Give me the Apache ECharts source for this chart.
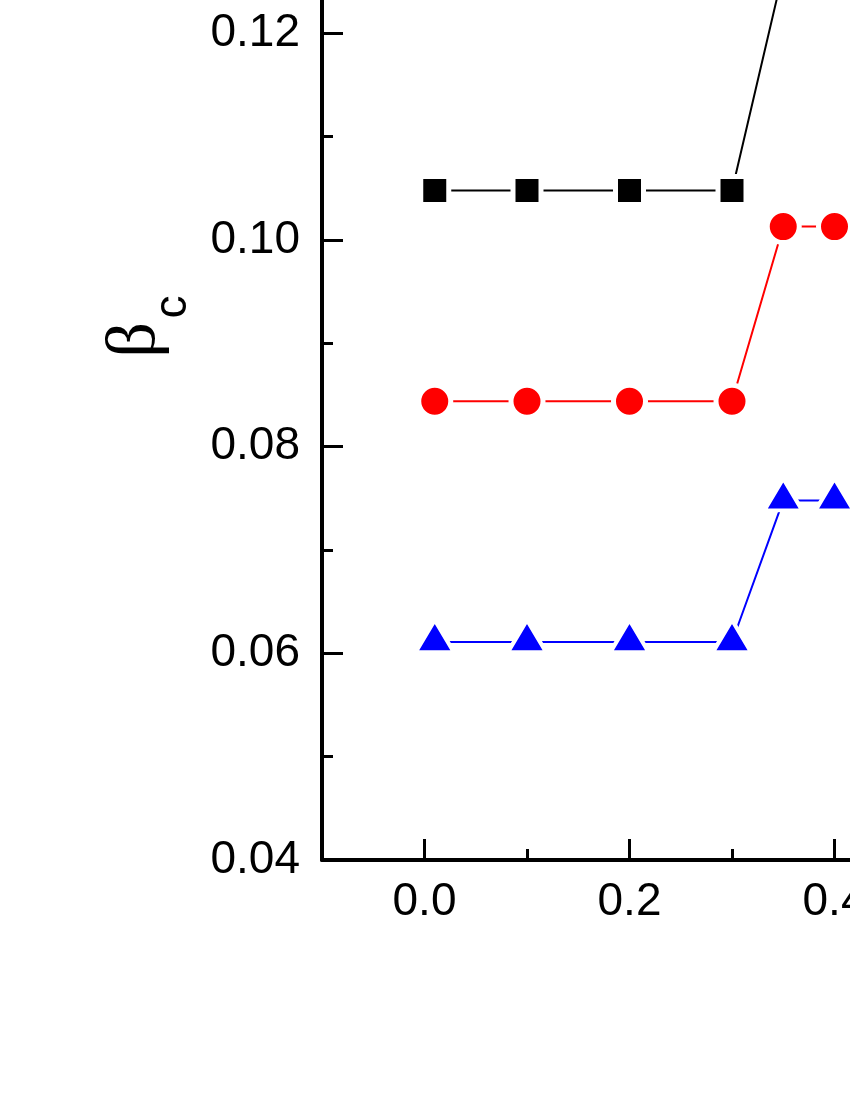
<!DOCTYPE html>
<html>
<head>
<meta charset="utf-8">
<script src="https://cdn.jsdelivr.net/npm/echarts@6/dist/echarts.min.js"></script>
<style>
html,body{margin:0;padding:0;background:#fff;}
#chart{width:850px;height:1100px;}
</style>
</head>
<body>
<div id="chart"></div>
<script>
// ---- data ----
const xValues = [0.01, 0.1, 0.2, 0.3, 0.35, 0.4];
const blackSeries = [0.1048, 0.1048, 0.1048, 0.1048, 0.126];
const redSeries = [0.0844, 0.0844, 0.0844, 0.0844, 0.1013, 0.1013];
const blueSeries = [0.0611, 0.0611, 0.0611, 0.0611, 0.0748, 0.0748];
const xMajorTicks = [0.0, 0.2, 0.4, 0.6, 0.8];
const xMinorTicks = [0.1, 0.3, 0.5, 0.7];
const yAxisName = 'β';
const yAxisSub = 'c';

function pairs(vals) {
  const out = [];
  vals.forEach((v, i) => out.push([xValues[i], v]));
  return out;
}

const chart = echarts.init(document.getElementById('chart'), null, {renderer: 'canvas'});
const gridPos = {left: 322, right: -394.5, top: -173.3, bottom: 240, containLabel: false, outerBoundsMode: 'none'};
const labelFont = {fontFamily: 'Liberation Sans', fontSize: 46, color: '#000'};

const option = {
  animation: false,
  backgroundColor: '#fff',
  grid: [Object.assign({}, gridPos), Object.assign({}, gridPos)],
  xAxis: [{
    type: 'value', gridIndex: 0, min: -0.1, max: 0.8,
    splitLine: {show: false},
    axisLine: {show: true, onZero: false, lineStyle: {color: '#000', width: 4}},
    axisTick: {show: true, inside: true, length: 21, lineStyle: {color: '#000', width: 3}, customValues: xMajorTicks},
    axisLabel: Object.assign({show: true, margin: 19, customValues: xMajorTicks, formatter: v => v.toFixed(1)}, labelFont)
  }, {
    type: 'value', gridIndex: 1, min: -0.1, max: 0.8,
    splitLine: {show: false},
    axisLine: {show: false, onZero: false},
    axisTick: {show: true, inside: true, length: 11, lineStyle: {color: '#000', width: 3}, customValues: xMinorTicks},
    axisLabel: {show: false}
  }],
  yAxis: [{
    type: 'value', gridIndex: 0, min: 0.04, max: 0.14, interval: 0.02,
    splitLine: {show: false},
    axisLine: {show: true, onZero: false, lineStyle: {color: '#000', width: 4}},
    axisTick: {show: true, inside: true, length: 21, lineStyle: {color: '#000', width: 3}},
    minorTick: {show: true, splitNumber: 2, length: 11, lineStyle: {color: '#000', width: 3}},
    minorSplitLine: {show: false},
    axisLabel: Object.assign({show: true, margin: 22, padding: [0, 0, 6, 0], formatter: v => v.toFixed(2)}, labelFont)
  }, {
    type: 'value', gridIndex: 1, min: 0.04, max: 0.14, show: false
  }],
  graphic: [{
    type: 'text', x: 136, y: 340, rotation: Math.PI / 2,
    style: {text: yAxisName, font: '70px "Liberation Serif"', fill: '#000', align: 'center', verticalAlign: 'middle'}
  }, {
    type: 'text', x: 173, y: 307, rotation: Math.PI / 2,
    style: {text: yAxisSub, font: '46px "Liberation Sans"', fill: '#000', align: 'center', verticalAlign: 'middle'}
  }],
  series: [{
    type: 'line', xAxisIndex: 0, yAxisIndex: 0,
    data: pairs(blackSeries),
    symbol: 'rect', symbolSize: 28,
    lineStyle: {color: '#000', width: 2},
    itemStyle: {color: '#000', borderColor: '#fff', borderWidth: 5},
    emphasis: {disabled: true}
  }, {
    type: 'line', xAxisIndex: 0, yAxisIndex: 0,
    data: pairs(redSeries),
    symbol: 'circle', symbolSize: 32,
    lineStyle: {color: '#ff0000', width: 2},
    itemStyle: {color: '#ff0000', borderColor: '#fff', borderWidth: 5},
    emphasis: {disabled: true}
  }, {
    type: 'line', xAxisIndex: 0, yAxisIndex: 0,
    data: pairs(blueSeries),
    symbol: 'triangle', symbolSize: [38, 32], symbolOffset: [0, -6],
    lineStyle: {color: '#0000ff', width: 2},
    itemStyle: {color: '#0000ff', borderColor: '#fff', borderWidth: 4},
    emphasis: {disabled: true}
  }]
};
chart.setOption(option);
</script>
</body>
</html>
